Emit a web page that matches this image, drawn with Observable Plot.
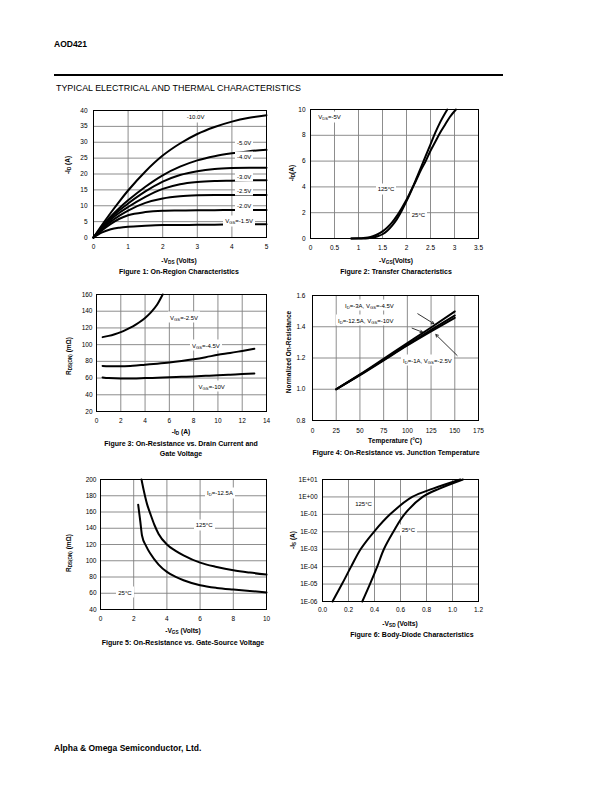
<!DOCTYPE html>
<html><head><meta charset="utf-8">
<script src="https://cdn.jsdelivr.net/npm/d3@7"></script>
<script src="https://cdn.jsdelivr.net/npm/@observablehq/plot@0.6"></script>
<style>
body{margin:0;background:#fff;}
#page{position:relative;width:612px;height:792px;font-family:"Liberation Sans",Arial,Helvetica,sans-serif;color:#000;overflow:hidden;background:#fff;}
.t{position:absolute;white-space:nowrap;line-height:1;}
.c{transform:translate(-50%,-50%);}
.l{transform:translateY(-50%);}
.r{transform:translate(-50%,-50%) rotate(-90deg);}
.b{font-weight:bold;}
.lbl{background:#fff;padding:2.5px 2px;margin-left:-2px;}
sub{font-size:70%;vertical-align:-0.25em;line-height:0;}
svg{overflow:visible;}
</style>
</head><body><div id="page"></div>
<script>
// ---------- DATA ----------
// Figure 1: On-Region Characteristics (-ID vs -VDS)
const f1_vds = [0,0.25,0.5,0.75,1,1.5,2,2.5,3,3.5,4,4.5,5];
const f1_id_10 = [0,4,7.8,11.4,14.8,20.8,25.8,29.6,32.6,34.8,36.5,37.7,38.5];
const f1_id_5  = [0,3.4,6.6,9.3,11.7,16,19.6,22.3,24.3,25.6,26.5,27.2,27.6];
const f1_id_4  = [0,3.2,6.2,8.6,10.7,14.5,17.6,19.7,20.9,21.6,21.9,22,22];
const f1_id_3  = [0,3,5.7,7.8,9.6,12.8,15.3,16.8,17.5,17.8,17.9,18,18];
const f1_id_25 = [0,2.7,5,6.9,8.5,10.9,12.3,13,13.3,13.4,13.4,13.4,13.4];
const f1_id_2  = [0,2.3,4.3,5.9,7.0,8.0,8.4,8.5,8.6,8.6,8.7,8.7,8.7];
const f1_id_15 = [0,1.6,2.6,3.1,3.4,3.7,3.9,3.95,4.0,4.05,4.1,4.15,4.2];
const f1_lblText = ["-10.0V","-5.0V","-4.0V","-3.0V","-2.5V","-2.0V","V{GS}=-1.5V"];
const f1_lblX = [2.71,4.16,4.16,4.16,4.16,4.16,3.82];
const f1_lblY = [37.9,29.7,25.3,19.2,14.8,9.8,5.1];
const f1_xticks = [0,1,2,3,4,5];
const f1_yticks = [0,5,10,15,20,25,30,35,40];

// Figure 2: Transfer Characteristics
const f2_vgs_25  = [0.85,1.1,1.2,1.3,1.4,1.5,1.6,1.7,1.8,1.9,2.0,2.1,2.2,2.3,2.4,2.5,2.6,2.7,2.85];
const f2_id_25   = [0,0,0.02,0.07,0.17,0.33,0.6,1.0,1.5,2.15,2.9,3.7,4.6,5.5,6.4,7.3,8.2,9.0,10];
const f2_vgs_125 = [0.85,1.0,1.1,1.2,1.3,1.4,1.5,1.6,1.7,1.8,1.9,2.0,2.1,2.2,2.3,2.4,2.5,2.6,2.7,2.8,2.9,3.03];
const f2_id_125  = [0,0.01,0.03,0.08,0.18,0.33,0.55,0.85,1.25,1.75,2.35,3.0,3.75,4.5,5.3,6.0,6.8,7.5,8.2,8.8,9.4,10];
const f2_lblText = ["V{DS}=-5V","125°C","25°C"];
const f2_lblX = [0.17,1.41,2.12];
const f2_lblY = [9.4,3.8,1.86];
const f2_xticks = [0,0.5,1,1.5,2,2.5,3,3.5];
const f2_yticks = [0,2,4,6,8,10];

// Figure 3: On-Resistance vs. Drain Current and Gate Voltage
const f3_id_a = [0.5,1,1.5,2,2.5,3,3.5,4,4.5,5,5.45];
const f3_r_25 = [109,110.5,112.5,115,118.3,122,126.5,132,139,148,160];
const f3_id_b = [0.5,1,2,3,4,5,6,7,8,9,10,11,12,13];
const f3_r_45 = [74.5,74,74,74.8,76,77.2,78.6,80.4,82.5,85,87.8,90,92.5,95];
const f3_r_10 = [60.8,60,59.5,59.6,60,60.4,61,61.5,62,62.7,63.3,64,64.8,65.5];
const f3_lblText = ["V{GS}=-2.5V","V{GS}=-4.5V","V{GS}=-10V"];
const f3_lblX = [6.1,7.9,8.45];
const f3_lblY = [132,98.4,49.6];
const f3_xticks = [0,2,4,6,8,10,12,14];
const f3_yticks = [20,40,60,80,100,120,140,160];

// Figure 4: On-Resistance vs. Junction Temperature
const f4_temp = [25,50,75,100,125,150];
const f4_r_3A   = [1.0,1.095,1.195,1.295,1.395,1.498];
const f4_r_125A = [1.0,1.092,1.188,1.285,1.38,1.472];
const f4_r_1A   = [1.0,1.09,1.185,1.28,1.37,1.457];
const f4_lblText = ["I{D}=-3A, V{GS}=-4.5V","I{D}=-12.5A, V{GS}=-10V","I{D}=-1A, V{GS}=-2.5V"];
const f4_lblX = [34.8,27.4,95.9];
const f4_lblY = [1.536,1.44,1.184];
const f4_arrX1 = [111,105,152.5];
const f4_arrY1 = [1.483,1.391,1.216];
const f4_arrX2 = [128,116,130];
const f4_arrY2 = [1.419,1.365,1.35];
const f4_xticks = [0,25,50,75,100,125,150,175];
const f4_yticks = [0.8,1.0,1.2,1.4,1.6];

// Figure 5: On-Resistance vs. Gate-Source Voltage
const f5_vgs_125 = [2.47,2.6,2.8,3,3.25,3.5,4,4.5,5,6,7,8,9,10];
const f5_r_125   = [200,187,170,158,144,133,120,112.5,106.7,97.7,92.4,88.3,85.4,83];
const f5_vgs_25  = [2.27,2.4,2.5,2.75,3,3.5,4,4.5,5,6,7,8,9,10];
const f5_r_25    = [169,148,131,118,108.8,95.3,86.3,80.5,76,69.9,66.6,64.6,62.9,60.9];
const f5_lblText = ["I{D}=-12.5A","125°C","25°C"];
const f5_lblX = [6.45,5.77,1.1];
const f5_lblY = [182.8,143.5,60.4];
const f5_xticks = [0,2,4,6,8,10];
const f5_yticks = [40,60,80,100,120,140,160,180,200];

// Figure 6: Body-Diode Characteristics
const f6_is      = [1e-6,1e-5,1e-4,1e-3,1e-2,1e-1,1,3,10];
const f6_vsd_125 = [0.077,0.15,0.22,0.293,0.396,0.52,0.69,0.85,1.06];
const f6_vsd_25  = [0.306,0.365,0.421,0.472,0.545,0.63,0.77,0.9,1.08];
const f6_lblText = ["125°C","25°C"];
const f6_lblX = [0.255,0.613];
const f6_lblY = [0.368,0.0123];
const f6_xticks = [0,0.2,0.4,0.6,0.8,1.0,1.2];
const f6_yticks = [1e-6,1e-5,1e-4,1e-3,1e-2,1e-1,1,10];

// ---------- HELPERS ----------
const FONT = '"Liberation Sans", Arial, Helvetica, sans-serif';
const page = document.getElementById("page");
const GRID = "#808080";

function series(xs, ys, name){ return xs.map((x,i)=>({x, y: ys[i], s: name})); }
function labels(ts, xs, ys){ return ts.map((t,i)=>({t, x: xs[i], y: ys[i]})); }
function subHTML(s){ return s.replace(/\{([^}]*)\}/g, "<sub>$1</sub>"); }
function html(s, x, y, cls, size){
  const d = document.createElement("div");
  d.className = "t " + cls;
  d.style.left = x + "px"; d.style.top = y + "px";
  d.style.fontSize = size + "px";
  d.innerHTML = subHTML(s);
  page.appendChild(d);
  return d;
}
function panel({frame:[L,T,R,B], x, y, xticks, yticks, xfmt, yfmt, padX=7, padY=5, lines, texts, curve="monotone-x", extra=[]}){
  const mL = 44, mT = 8, mR = 10, mB = 24;
  const width = mL + (R-L) + mR, height = mT + (B-T) + mB;
  const svg = Plot.plot({
    width, height, marginLeft: mL, marginTop: mT, marginRight: mR, marginBottom: mB,
    style: {fontFamily: FONT, fontSize: "6.5px", color: "#000", background: "transparent", overflow: "visible"},
    x: {...x, label: null}, y: {...y, label: null},
    marks: [
      Plot.gridX(xticks, {stroke: GRID, strokeOpacity: 1, strokeWidth: 0.9}),
      Plot.gridY(yticks, {stroke: GRID, strokeOpacity: 1, strokeWidth: 0.9}),
      Plot.line(lines, {x: "x", y: "y", z: "s", stroke: "black", strokeWidth: 2, curve}),
      ...extra,
      Plot.frame({stroke: "black", strokeWidth: 1}),
      Plot.axisX(xticks, {tickSize: 0, tickPadding: padX, tickFormat: xfmt || (d => String(d)), fill: "#000"}),
      Plot.axisY(yticks, {tickSize: 0, tickPadding: padY, tickFormat: yfmt || (d => String(d)), fill: "#000"})
    ]
  });
  const left = L - mL, top = T - mT;
  svg.style.position = "absolute";
  svg.style.left = left + "px";
  svg.style.top = top + "px";
  page.appendChild(svg);
  // in-plot annotation labels, placed through the plot's own scales
  const sx = svg.scale("x"), sy = svg.scale("y");
  for (const d of texts) {
    html(d.t, left + sx.apply(d.x), top + sy.apply(d.y), "l lbl", 6);
  }
}

// ---------- PAGE TEXT ----------
html("AOD421", 54, 44, "l b", 8.5);
const rule = document.createElement("div");
rule.style.cssText = "position:absolute;left:54px;top:74px;width:449px;height:2px;background:#000;";
page.appendChild(rule);
html("TYPICAL ELECTRICAL AND THERMAL CHARACTERISTICS", 56, 88, "l", 8.9);
html("Alpha &amp; Omega Semiconductor, Ltd.", 54, 748, "l b", 8.5);

// ---------- FIGURE 1 ----------
panel({
  frame: [93, 110, 266, 237],
  x: {domain: [0, 5]}, y: {domain: [0, 40]},
  xticks: f1_xticks, yticks: f1_yticks, padX: 7, padY: 6,
  lines: [
    ...series(f1_vds, f1_id_10, "-10.0V"), ...series(f1_vds, f1_id_5, "-5.0V"),
    ...series(f1_vds, f1_id_4, "-4.0V"), ...series(f1_vds, f1_id_3, "-3.0V"),
    ...series(f1_vds, f1_id_25, "-2.5V"), ...series(f1_vds, f1_id_2, "-2.0V"),
    ...series(f1_vds, f1_id_15, "-1.5V")
  ],
  texts: labels(f1_lblText, f1_lblX, f1_lblY)
});
html("-I{D} (A)", 68, 165, "r b", 6.5);
html("-V{DS} (Volts)", 179, 261, "c b", 6.7);
html("Figure 1: On-Region Characteristics", 179, 271, "c b", 7);

// ---------- FIGURE 2 ----------
panel({
  frame: [310, 109, 478, 238],
  x: {domain: [0, 3.5]}, y: {domain: [0, 10]},
  xticks: f2_xticks, yticks: f2_yticks, padX: 7, padY: 5,
  lines: [...series(f2_vgs_25, f2_id_25, "25C"), ...series(f2_vgs_125, f2_id_125, "125C")],
  texts: labels(f2_lblText, f2_lblX, f2_lblY)
});
html("-I{D}(A)", 292, 173, "r b", 6.5);
html("-V{GS}(Volts)", 396, 261, "c b", 6.7);
html("Figure 2: Transfer Characteristics", 396, 271, "c b", 7);

// ---------- FIGURE 3 ----------
panel({
  frame: [96, 294, 266, 411],
  x: {domain: [0, 14]}, y: {domain: [20, 160]},
  xticks: f3_xticks, yticks: f3_yticks, padX: 7, padY: 4,
  lines: [...series(f3_id_a, f3_r_25, "2.5"), ...series(f3_id_b, f3_r_45, "4.5"), ...series(f3_id_b, f3_r_10, "10")],
  texts: labels(f3_lblText, f3_lblX, f3_lblY)
});
html("R{DS(ON)} (mΩ)", 69, 356, "r b", 6.5);
html("-I{D} (A)", 181, 432, "c b", 6.7);
html("Figure 3: On-Resistance vs. Drain Current and", 181, 443, "c b", 7);
html("Gate Voltage", 181, 452.5, "c b", 7);

// ---------- FIGURE 4 ----------
panel({
  frame: [312, 295, 478, 420],
  x: {domain: [0, 175]}, y: {domain: [0.8, 1.6]},
  xticks: f4_xticks, yticks: f4_yticks, padX: 8, padY: 7, yfmt: d3.format(".1f"),
  lines: [...series(f4_temp, f4_r_3A, "3A"), ...series(f4_temp, f4_r_125A, "12.5A"), ...series(f4_temp, f4_r_1A, "1A")],
  texts: labels(f4_lblText, f4_lblX, f4_lblY),
  extra: [Plot.arrow(f4_arrX1.map((d,i)=>i), {x1: i=>f4_arrX1[i], y1: i=>f4_arrY1[i], x2: i=>f4_arrX2[i], y2: i=>f4_arrY2[i], stroke: "black", strokeWidth: 0.8, headLength: 5, bend: 0})]
});
html("Normalized On-Resistance", 289, 352, "r b", 6.5);
html("Temperature (°C)", 395, 441, "c b", 6.7);
html("Figure 4: On-Resistance vs. Junction Temperature", 396, 451.5, "c b", 7);

// ---------- FIGURE 5 ----------
panel({
  frame: [100, 479, 266, 609],
  x: {domain: [0, 10]}, y: {domain: [40, 200]},
  xticks: f5_xticks, yticks: f5_yticks, padX: 7, padY: 4,
  lines: [...series(f5_vgs_125, f5_r_125, "125"), ...series(f5_vgs_25, f5_r_25, "25")],
  texts: labels(f5_lblText, f5_lblX, f5_lblY)
});
html("R{DS(ON)} (mΩ)", 69, 553, "r b", 6.5);
html("-V{GS} (Volts)", 183, 631, "c b", 6.7);
html("Figure 5: On-Resistance vs. Gate-Source Voltage", 183, 641.5, "c b", 7);

// ---------- FIGURE 6 ----------
const expFmt = d => { const e = Math.round(Math.log10(d)); return "1E" + (e < 0 ? "-" : "+") + String(Math.abs(e)).padStart(2, "0"); };
panel({
  frame: [322, 479, 478, 601],
  x: {domain: [0, 1.2]}, y: {type: "log", domain: [1e-6, 10]},
  xticks: f6_xticks, yticks: f6_yticks, padX: 6, padY: 5, xfmt: d3.format(".1f"), yfmt: expFmt,
  lines: [...series(f6_vsd_125, f6_is, "125"), ...series(f6_vsd_25, f6_is, "25")],
  texts: labels(f6_lblText, f6_lblX, f6_lblY),
  curve: "catmull-rom"
});
html("-I{S} (A)", 293, 540, "r b", 6.5);
html("-V{SD} (Volts)", 400, 624, "c b", 6.7);
html("Figure 6: Body-Diode Characteristics", 412, 634, "c b", 7);
</script>
</body></html>
